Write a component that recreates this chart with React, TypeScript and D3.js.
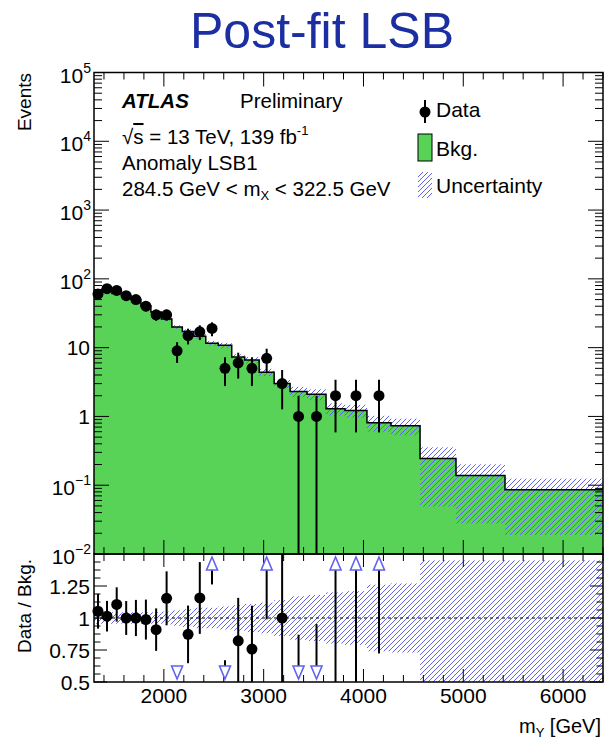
import React from "react";
import * as d3 from "d3";

// m_Y binning (GeV) and post-fit background / observed counts per bin
const binEdges = [1300, 1380, 1480, 1575, 1670, 1770, 1870, 1975, 2080, 2185, 2300, 2420, 2545, 2680, 2810, 2955, 3105, 3265, 3434, 3625, 3815, 4035, 4276, 4567, 4927, 5418, 6400];
const bkgYield = [57, 71, 61.5, 57, 50, 40.5, 33, 26, 20, 17.2, 14.7, 11.6, 10.8, 7.3, 6.6, 4.4, 3.0, 2.3, 2.1, 1.29, 1.22, 0.81, 0.73, 0.245, 0.139, 0.086];
const dataCounts = [60, 72, 68, 57, 50, 40, 30, 30, 9, 15, 17, 19, 5, 6, 5, 7, 3, 1, 1, 2, 2, 2, 0, 0, 0, 0];
// relative background uncertainty (up / down)
const uncUp = [0.045, 0.045, 0.045, 0.045, 0.045, 0.045, 0.045, 0.05, 0.06, 0.07, 0.08, 0.08, 0.09, 0.1, 0.11, 0.12, 0.14, 0.17, 0.18, 0.2, 0.21, 0.26, 0.27, 0.45, 0.45, 0.45];
const uncDown = [0.045, 0.045, 0.045, 0.045, 0.045, 0.045, 0.045, 0.05, 0.06, 0.07, 0.08, 0.08, 0.09, 0.1, 0.11, 0.12, 0.14, 0.17, 0.18, 0.2, 0.21, 0.26, 0.27, 0.8, 0.8, 0.78];

const xMajorTicks = [2000, 3000, 4000, 5000, 6000];
const yDecades = [-2, -1, 0, 1, 2, 3, 4, 5];
const ratioTicks = [0.5, 0.75, 1, 1.25, 1.5];
const ratioTickLabels = ["0.5", "0.75", "1", "1.25", ""];

const FONT = "'Liberation Sans', Arial, Helvetica, sans-serif";
const GREEN = "#58d358";
const HATCH = "#6262f2";
const TITLE_BLUE = "#1b2fa2";

const L = 94, R = 603, T = 72.5, MB = 554, RB = 682;

export default function App() {
  const x = d3.scaleLinear().domain([1300, 6400]).range([L, R]);
  const y = d3.scaleLog().domain([1e-2, 1e5]).range([MB, T]);
  const yr = d3.scaleLinear().domain([0.5, 1.5]).range([RB, MB]);

  const nb = bkgYield.length;
  const stepPts = bkgYield.map((v, i) => ({ e: binEdges[i], v }));
  stepPts.push({ e: binEdges[nb], v: bkgYield[nb - 1] });

  const area = d3.area<{ e: number; v: number }>()
    .x(d => x(d.e)).y0(MB).y1(d => y(d.v)).curve(d3.curveStepAfter);
  const line = d3.line<{ e: number; v: number }>()
    .x(d => x(d.e)).y(d => y(d.v)).curve(d3.curveStepAfter);

  const clampMain = (v: number) => Math.max(T, Math.min(MB, v));
  const clampRatio = (v: number) => Math.max(MB, Math.min(RB, v));

  // x minor ticks every 200 GeV
  const xMinor = d3.range(1400, 6401, 200).filter(v => v % 1000 !== 0);
  // log minor ticks
  const yMinor: number[] = [];
  for (let d = -2; d < 5; d++) for (let k = 2; k <= 9; k++) yMinor.push(k * Math.pow(10, d));
  const rMinor = d3.range(0.5, 1.5001, 0.0625).filter(v => Math.abs((v / 0.25) - Math.round(v / 0.25)) > 1e-6);

  const bins = bkgYield.map((b, i) => ({
    lo: binEdges[i], hi: binEdges[i + 1], c: (binEdges[i] + binEdges[i + 1]) / 2,
    b, n: dataCounts[i], up: uncUp[i], dn: uncDown[i],
  }));

  const tri = (cx: number, apex: number, base: number) =>
    `M${cx},${apex} L${cx - 5.5},${base} L${cx + 5.5},${base} Z`;

  return (
    <svg width={606} height={741} style={{ position: "absolute", left: 0, top: 0, background: "#fff" }} fontFamily={FONT}>
      <defs>
        <pattern id="hatch" patternUnits="userSpaceOnUse" width={5} height={5}>
          <path d="M-1,1 l2,-2 M0,5 l5,-5 M4,6 l2,-2" stroke={HATCH} strokeWidth={1} />
        </pattern>
        <clipPath id="mainClip"><rect x={L} y={T} width={R - L} height={MB - T} /></clipPath>
        <clipPath id="ratioClip"><rect x={L} y={MB} width={R - L} height={RB - MB} /></clipPath>
      </defs>

      {/* title */}
      <text x={322} y={48} fontSize={50} fill={TITLE_BLUE} textAnchor="middle">Post-fit LSB</text>

      {/* ===== main panel ===== */}
      <g clipPath="url(#mainClip)">
        <path d={area(stepPts) || ""} fill={GREEN} />
        {bins.map((d, i) => (
          <rect key={"h" + i} x={x(d.lo)} width={x(d.hi) - x(d.lo)}
            y={y(d.b * (1 + d.up))} height={y(Math.max(d.b * (1 - d.dn), 1e-3)) - y(d.b * (1 + d.up))}
            fill="url(#hatch)" />
        ))}
        <path d={line(stepPts) || ""} fill="none" stroke="#000" strokeWidth={1.5} />
      </g>

      {/* main ticks */}
      <g stroke="#000" strokeWidth={1}>
        {xMajorTicks.map(v => (
          <g key={"mx" + v}>
            <line x1={x(v)} x2={x(v)} y1={MB} y2={MB - 14} />
            <line x1={x(v)} x2={x(v)} y1={T} y2={T + 14} />
          </g>
        ))}
        {xMinor.map(v => (
          <g key={"mxm" + v}>
            <line x1={x(v)} x2={x(v)} y1={MB} y2={MB - 7} />
            <line x1={x(v)} x2={x(v)} y1={T} y2={T + 7} />
          </g>
        ))}
        {yDecades.map(d => (
          <g key={"yd" + d}>
            <line x1={L} x2={L + 15} y1={y(Math.pow(10, d))} y2={y(Math.pow(10, d))} />
            <line x1={R} x2={R - 15} y1={y(Math.pow(10, d))} y2={y(Math.pow(10, d))} />
          </g>
        ))}
        {yMinor.map((v, i) => (
          <g key={"ym" + i}>
            <line x1={L} x2={L + 8} y1={y(v)} y2={y(v)} />
            <line x1={R} x2={R - 8} y1={y(v)} y2={y(v)} />
          </g>
        ))}
      </g>
      <rect x={L} y={T} width={R - L} height={MB - T} fill="none" stroke="#000" strokeWidth={1.5} />

      {/* main y labels */}
      <g fontSize={21} fill="#000" textAnchor="end">
        {yDecades.map(d => {
          const yy = y(Math.pow(10, d));
          if (d === 0) return <text key={"l" + d} x={90} y={yy + 7.5}>1</text>;
          if (d === 1) return <text key={"l" + d} x={90} y={yy + 7.5}>10</text>;
          return (
            <text key={"l" + d} x={91} y={yy + 10}>
              10<tspan fontSize={14} dy={-10}>{d < 0 ? "\u2212" + Math.abs(d) : String(d)}</tspan>
            </text>
          );
        })}
      </g>

      {/* data points in main panel */}
      <g>
        {bins.filter(d => d.n > 0).map((d, i) => {
          const s = Math.sqrt(d.n);
          const lo = d.n - s > 0 ? y(d.n - s) : MB;
          const hi = y(d.n + s);
          return (
            <g key={"dp" + i}>
              <line x1={x(d.c)} x2={x(d.c)} y1={clampMain(lo)} y2={clampMain(hi)} stroke="#000" strokeWidth={2} />
              <circle cx={x(d.c)} cy={y(d.n)} r={5.5} fill="#000" />
            </g>
          );
        })}
      </g>

      {/* ATLAS labels */}
      <g fontSize={20.5} fill="#000">
        <text x={122} y={108} fontWeight="bold" fontStyle="italic">ATLAS</text>
        <text x={240} y={108}>Preliminary</text>
        <text x={122} y={144}>
          √<tspan textDecoration="overline">s</tspan> = 13 TeV, 139 fb<tspan fontSize={13} dy={-9}>-1</tspan>
        </text>
        <text x={122} y={170}>Anomaly LSB1</text>
        <text x={122} y={196}>
          284.5 GeV &lt; m<tspan fontSize={13} dy={4}>X</tspan><tspan dy={-4}> &lt; 322.5 GeV</tspan>
        </text>
      </g>

      {/* legend */}
      <g>
        <line x1={425} x2={425} y1={100} y2={123} stroke="#000" strokeWidth={2} />
        <circle cx={425} cy={112} r={5.5} fill="#000" />
        <rect x={418} y={134} width={14} height={27} fill={GREEN} stroke="#000" strokeWidth={1} />
        <rect x={418} y={172} width={14} height={26} fill="url(#hatch)" />
        <g fontSize={21} fill="#000">
          <text x={436} y={117}>Data</text>
          <text x={436} y={156}>Bkg.</text>
          <text x={436} y={193}>Uncertainty</text>
        </g>
      </g>

      {/* ===== ratio panel ===== */}
      <g clipPath="url(#ratioClip)">
        {bins.map((d, i) => (
          <rect key={"rh" + i} x={x(d.lo)} width={x(d.hi) - x(d.lo)}
            y={yr(1 + d.up)} height={yr(1 - d.dn) - yr(1 + d.up)} fill="url(#hatch)" />
        ))}
      </g>
      <line x1={L} x2={R} y1={yr(1)} y2={yr(1)} stroke="#000" strokeWidth={1} strokeDasharray="3,3" />

      <g stroke="#000" strokeWidth={1}>
        {xMajorTicks.map(v => (
          <g key={"rx" + v}>
            <line x1={x(v)} x2={x(v)} y1={RB} y2={RB - 13} />
            <line x1={x(v)} x2={x(v)} y1={MB} y2={MB + 13} />
          </g>
        ))}
        {xMinor.map(v => (
          <g key={"rxm" + v}>
            <line x1={x(v)} x2={x(v)} y1={RB} y2={RB - 7} />
            <line x1={x(v)} x2={x(v)} y1={MB} y2={MB + 7} />
          </g>
        ))}
        {ratioTicks.map(v => (
          <g key={"ry" + v}>
            <line x1={L} x2={L + 13} y1={yr(v)} y2={yr(v)} />
            <line x1={R} x2={R - 13} y1={yr(v)} y2={yr(v)} />
          </g>
        ))}
        {rMinor.map((v, i) => (
          <g key={"rym" + i}>
            <line x1={L} x2={L + 6.5} y1={yr(v)} y2={yr(v)} />
            <line x1={R} x2={R - 6.5} y1={yr(v)} y2={yr(v)} />
          </g>
        ))}
      </g>
      <rect x={L} y={MB} width={R - L} height={RB - MB} fill="none" stroke="#000" strokeWidth={1.5} />

      {/* ratio points */}
      <g>
        {bins.filter(d => d.n > 0).map((d, i) => {
          const r = d.n / d.b;
          const e = Math.sqrt(d.n) / d.b;
          const cx = x(d.c);
          if (r > 1.5) {
            const base = yr(1.5) + 16;
            const lo = clampRatio(yr(Math.max(r - e, 0.5)));
            return (
              <g key={"rp" + i}>
                {lo > base && <line x1={cx} x2={cx} y1={lo} y2={base} stroke="#000" strokeWidth={2} />}
                <path d={tri(cx, yr(1.5) + 3, base)} fill="#fff" stroke={HATCH} strokeWidth={1.6} />
              </g>
            );
          }
          if (r < 0.5) {
            const base = yr(0.5) - 16;
            const hi = clampRatio(yr(Math.min(r + e, 1.5)));
            return (
              <g key={"rp" + i}>
                {hi < base && <line x1={cx} x2={cx} y1={hi} y2={base} stroke="#000" strokeWidth={2} />}
                <path d={tri(cx, yr(0.5) - 3, base)} fill="#fff" stroke={HATCH} strokeWidth={1.6} />
              </g>
            );
          }
          return (
            <g key={"rp" + i}>
              <line x1={cx} x2={cx} y1={clampRatio(yr(r - e))} y2={clampRatio(yr(r + e))} stroke="#000" strokeWidth={2} />
              <circle cx={cx} cy={yr(r)} r={5.5} fill="#000" />
            </g>
          );
        })}
      </g>

      {/* ratio y labels */}
      <g fontSize={21} fill="#000" textAnchor="end">
        {ratioTicks.map((v, i) => (
          <text key={"rl" + v} x={90} y={yr(v) + 7.5}>{ratioTickLabels[i]}</text>
        ))}
      </g>

      {/* x labels */}
      <g fontSize={21} fill="#000" textAnchor="middle">
        {xMajorTicks.map(v => (
          <text key={"xl" + v} x={x(v)} y={703}>{v}</text>
        ))}
      </g>
      <text x={601} y={733} fontSize={20} textAnchor="end">
        m<tspan fontSize={13} dy={4}>Y</tspan><tspan dy={-4}> [GeV]</tspan>
      </text>

      {/* axis titles */}
      <text transform="translate(31,73) rotate(-90)" fontSize={19} textAnchor="end">Events</text>
      <text transform="translate(31,559) rotate(-90)" fontSize={19} textAnchor="end">Data / Bkg.</text>
    </svg>
  );
}
